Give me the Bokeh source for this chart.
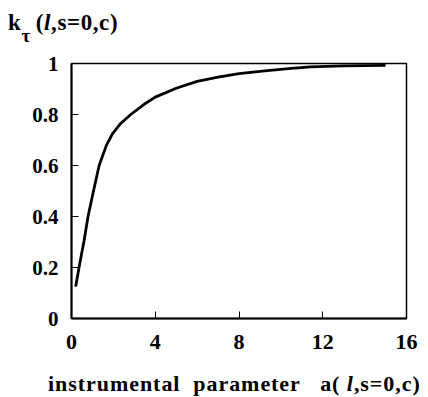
from bokeh.plotting import figure
from bokeh.models import Range1d, FixedTicker, Div
from bokeh.layouts import column
from bokeh.embed import file_html
from bokeh.resources import INLINE

# data
a_values = [0.2, 0.36, 0.6, 0.79, 1.05, 1.32, 1.67, 1.96, 2.35, 2.83, 3.47, 4.0, 5.0, 6.0, 7.0, 8.0, 9.35, 10.5, 11.4, 13.0, 15.0]
k_values = [0.125, 0.2, 0.305, 0.4, 0.5, 0.6, 0.68, 0.725, 0.765, 0.8, 0.84, 0.868, 0.903, 0.93, 0.947, 0.96, 0.972, 0.981, 0.987, 0.991, 0.993]
x_ticks = [0, 4, 8, 12, 16]
y_ticks = [0, 0.2, 0.4, 0.6, 0.8, 1]
y_tick_labels = ["0", "0.2", "0.4", "0.6", "0.8", "1"]

FONT = "Liberation Serif"
W, H = 428, 397
TITLE_H, XLAB_H = 48, 36
FIG_H = H - TITLE_H - XLAB_H
FL, FR, FT, FB = 71, 406, 63, 318  # frame edges in page pixels

title = Div(width=W, height=TITLE_H, margin=0, text=(
    f'<div style="position:relative;width:{W}px;height:{TITLE_H}px;'
    f'font-family:\'{FONT}\';font-weight:bold;font-size:23px;line-height:23px;color:black;">'
    '<span style="position:absolute;left:8px;top:11px;white-space:nowrap;letter-spacing:0.6px;">k'
    '<span style="font-size:19px;position:relative;top:12px;margin-right:5px;">τ</span>'
    '(<i>l</i>,s=0,c)</span></div>'))

p = figure(width=W, height=FIG_H, output_backend="svg", toolbar_location=None,
           x_range=Range1d(0, 16), y_range=Range1d(0, 1),
           min_border_left=FL, min_border_right=W - FR,
           min_border_top=FT - TITLE_H, min_border_bottom=TITLE_H + FIG_H - FB,
           margin=0)
p.background_fill_color = "white"
p.border_fill_color = "white"
p.grid.visible = False
p.outline_line_color = "black"
p.outline_line_width = 1.5

for ax in (p.xaxis[0], p.yaxis[0]):
    ax.axis_line_width = 2
    ax.axis_line_color = "black"
    ax.major_tick_in = 7
    ax.major_tick_out = 0
    ax.minor_tick_line_color = None
    ax.major_tick_line_width = 1
    ax.major_label_text_font = FONT
    ax.major_label_text_font_style = "bold"
    ax.major_label_text_color = "black"

p.xaxis.ticker = FixedTicker(ticks=x_ticks)
p.yaxis.ticker = FixedTicker(ticks=y_ticks)
p.xaxis.major_label_overrides = {t: str(t) for t in x_ticks}
p.yaxis.major_label_overrides = dict(zip(y_ticks, y_tick_labels))
p.xaxis.major_label_text_font_size = "22px"
p.yaxis.major_label_text_font_size = "21px"
p.xaxis.major_label_standoff = 16
p.yaxis.major_label_standoff = 13

p.line(a_values, k_values, line_color="black", line_width=2.8)

xlabel = Div(width=W, height=XLAB_H, margin=0, text=(
    f'<div style="position:relative;width:{W}px;height:{XLAB_H}px;'
    f'font-family:\'{FONT}\';font-weight:bold;font-size:22px;line-height:22px;color:black;">'
    '<span style="position:absolute;left:48px;top:12px;white-space:nowrap;letter-spacing:0.95px;">'
    'instrumental&nbsp;&nbsp;parameter&nbsp;&nbsp;&nbsp;a(&nbsp;<i>l</i>,s=0,c)</span></div>'))

layout = column(title, p, xlabel, spacing=0, margin=0)
open("out.html", "w").write(file_html(layout, INLINE))
